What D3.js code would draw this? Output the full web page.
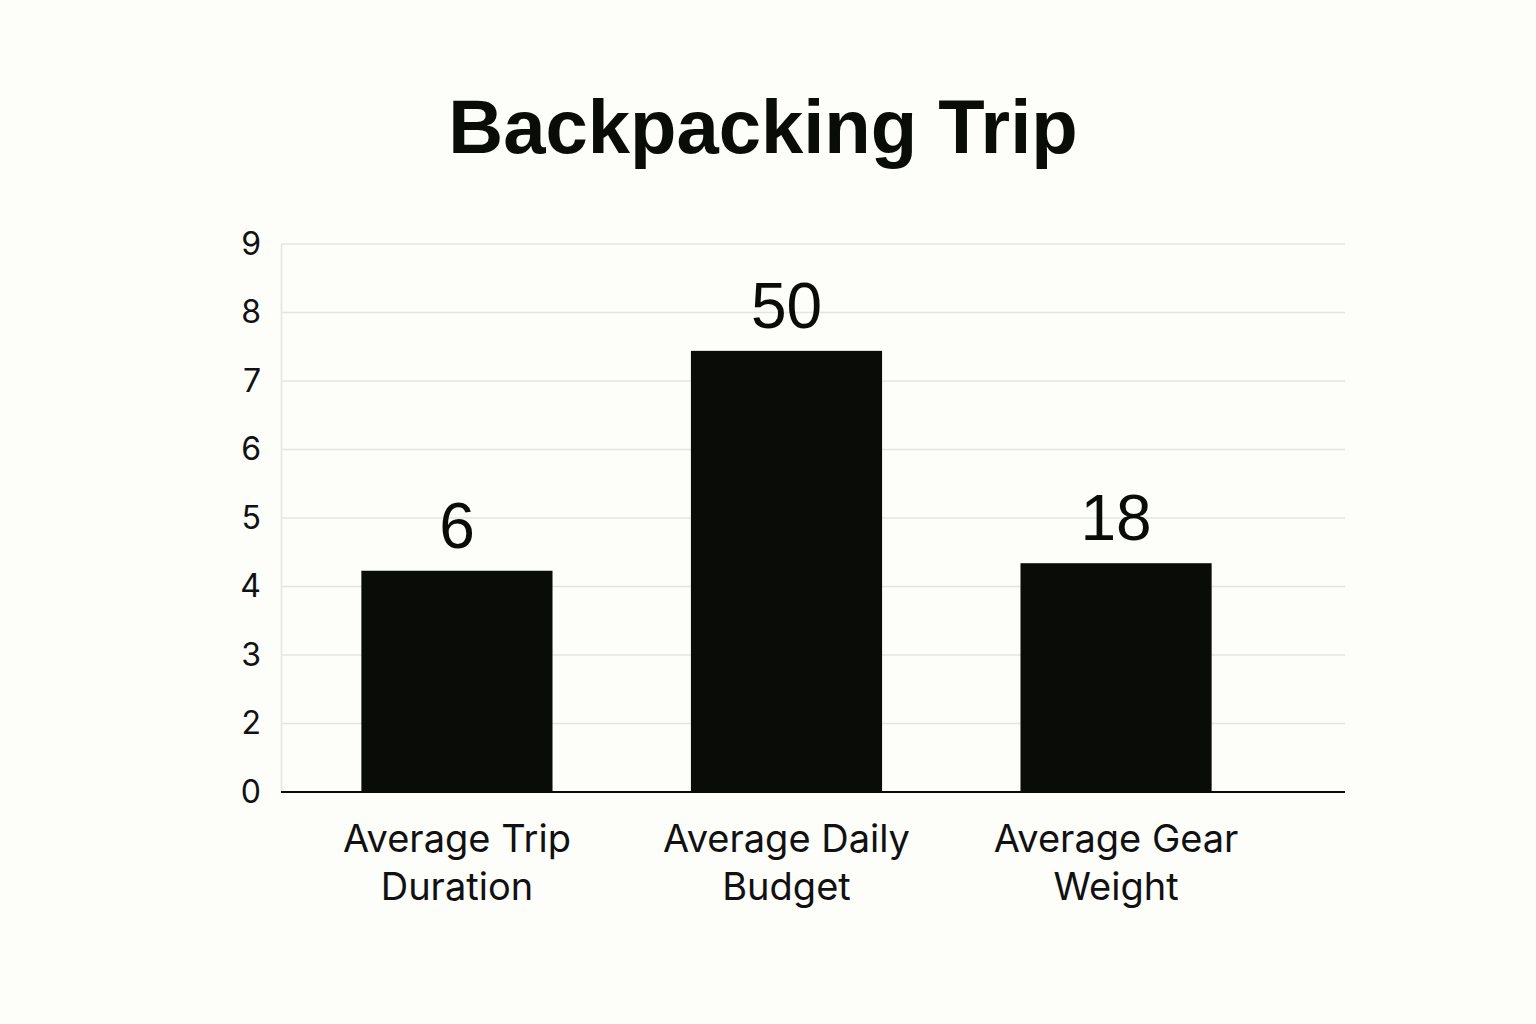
<!DOCTYPE html>
<html>
<head>
<meta charset="utf-8">
<script src="https://cdn.jsdelivr.net/npm/d3@7"></script>
<style>
  html, body { margin: 0; padding: 0; background: #fdfdfa; }
  svg { display: block; }
</style>
</head>
<body>
<svg id="chart" width="1536" height="1024"></svg>
<script>
// ---- data ----
const title = "Backpacking Trip";
const categories = [["Average Trip", "Duration"], ["Average Daily", "Budget"], ["Average Gear", "Weight"]];
const barHeights = [4.23, 7.44, 4.34];      // bar tops read against the y axis
const valueLabels = ["6", "50", "18"];      // numbers printed above bars
const yTicks = [0, 2, 3, 4, 5, 6, 7, 8, 9]; // tick labels as shown (1 is missing)

// ---- layout ----
const W = 1536, H = 1024;
const plot = { left: 281, right: 1345, top: 244, bottom: 792 };
const svg = d3.select("#chart");
svg.append("rect").attr("width", W).attr("height", H).attr("fill", "#fdfdfa");

// axis labels are evenly spaced, so 0..2 spans one gridline step
const step = (plot.bottom - plot.top) / (yTicks.length - 1);
const y = d3.scaleLinear()
  .domain([0, 2, 9])
  .range([plot.bottom, plot.bottom - step, plot.top]);

const x = d3.scaleBand()
  .domain(categories.map((d, i) => i))
  .range([277, 1296])
  .paddingInner(0.42)
  .paddingOuter(0.256);

// gridlines
svg.append("g")
  .selectAll("line")
  .data(yTicks.filter(t => t !== 0))
  .join("line")
  .attr("x1", plot.left).attr("x2", plot.right)
  .attr("y1", d => y(d)).attr("y2", d => y(d))
  .attr("stroke", "#e4e4e2").attr("stroke-width", 1.5);

// y axis
const yAxis = d3.axisLeft(y).tickValues(yTicks).tickSize(0).tickPadding(20).tickFormat(d3.format("d"));
const gy = svg.append("g").attr("transform", `translate(${plot.left},0)`).call(yAxis);
gy.select(".domain").attr("stroke", "#e4e4e2").attr("stroke-width", 1.5);
gy.selectAll("text")
  .attr("font-family", "Inter, 'Noto Sans', sans-serif")
  .attr("font-size", 32)
  .attr("fill", "#111");

// bars
svg.append("g")
  .selectAll("rect")
  .data(barHeights)
  .join("rect")
  .attr("x", (d, i) => x(i))
  .attr("width", x.bandwidth())
  .attr("y", d => y(d))
  .attr("height", d => y(0) - y(d))
  .attr("fill", "#0a0c08");

// value labels
svg.append("g")
  .selectAll("text")
  .data(barHeights)
  .join("text")
  .attr("x", (d, i) => x(i) + x.bandwidth() / 2)
  .attr("y", d => y(d) - 23)
  .attr("text-anchor", "middle")
  .attr("font-family", "'Liberation Sans', Arial, sans-serif")
  .attr("font-size", 64)
  .attr("fill", "#0a0c08")
  .text((d, i) => valueLabels[i]);

// x baseline
svg.append("line")
  .attr("x1", plot.left).attr("x2", plot.right)
  .attr("y1", y(0)).attr("y2", y(0))
  .attr("stroke", "#0a0c08").attr("stroke-width", 2);

// category labels
const cat = svg.append("g")
  .selectAll("text")
  .data(categories)
  .join("text")
  .attr("text-anchor", "middle")
  .attr("font-family", "Inter, 'Noto Sans', sans-serif")
  .attr("font-size", 38)
  .attr("fill", "#111");
cat.each(function(d, i) {
  const t = d3.select(this);
  d.forEach((line, j) => {
    t.append("tspan")
      .attr("x", x(i) + x.bandwidth() / 2)
      .attr("y", y(0) + 60 + j * 48)
      .text(line);
  });
});

// title
svg.append("text")
  .attr("x", 763).attr("y", 153)
  .attr("text-anchor", "middle")
  .attr("font-family", "'Liberation Sans', Arial, sans-serif")
  .attr("font-weight", "bold")
  .attr("font-size", 76)
  .attr("fill", "#0a0c08")
  .text(title);
</script>
</body>
</html>
